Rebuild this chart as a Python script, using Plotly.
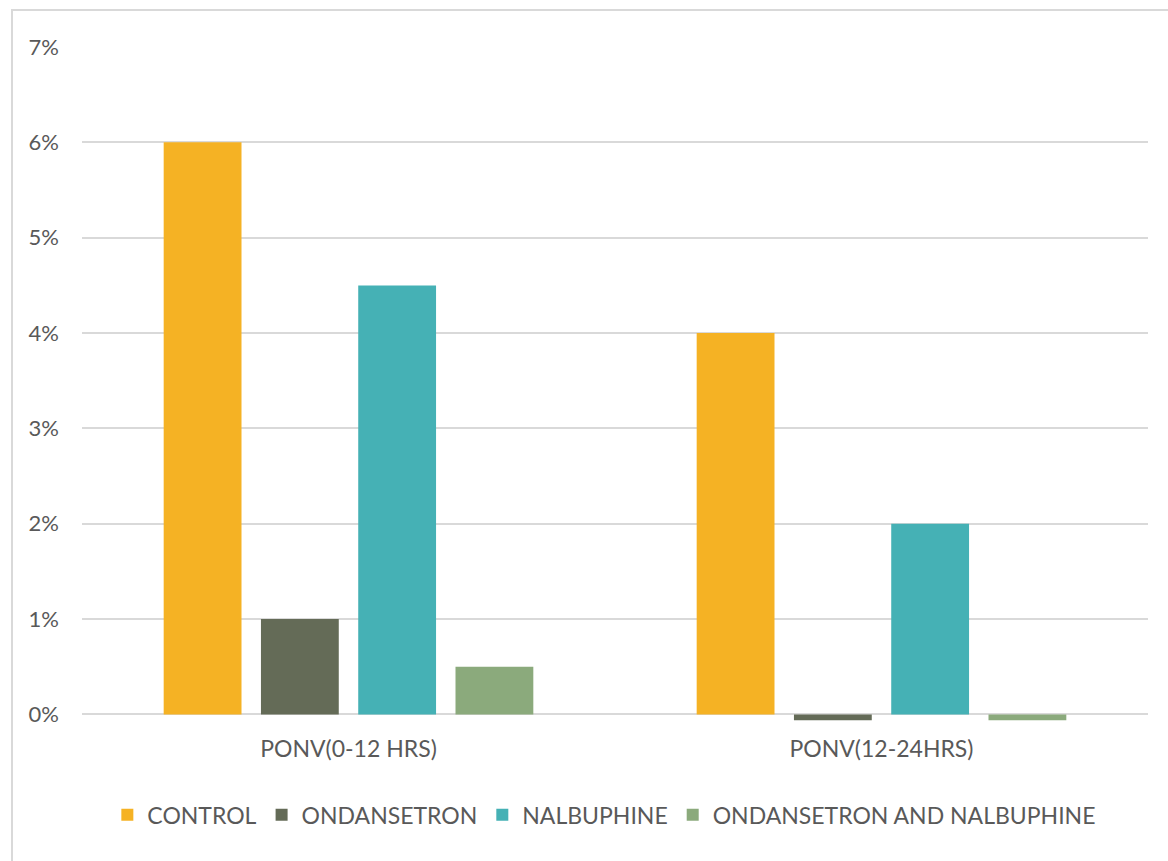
import plotly.graph_objects as go

categories = ["PONV(0-12 HRS)", "PONV(12-24HRS)"]
series_names = ["CONTROL", "ONDANSETRON", "NALBUPHINE", "ONDANSETRON AND NALBUPHINE"]
control = [0.06, 0.04]
ondansetron = [0.01, -0.0006]
nalbuphine = [0.045, 0.02]
combo = [0.005, -0.0006]
colors = ["#F5B224", "#646B57", "#45B1B5", "#8BAA7C"]
y_ticks = [0, 0.01, 0.02, 0.03, 0.04, 0.05, 0.06, 0.07]

FONT = "Lato, 'Open Sans', sans-serif"
TXT = "#595959"
GRID = "#D9D9D9"

fig = go.Figure()
for name, vals, col in zip(series_names, [control, ondansetron, nalbuphine, combo], colors):
    fig.add_trace(go.Bar(x=categories, y=vals, name=name, marker=dict(color=col, line=dict(width=0))))

fig.update_layout(
    width=1168, height=861,
    margin=dict(l=82, r=20, t=47, b=137),
    paper_bgcolor="white", plot_bgcolor="white",
    barmode="group", bargap=0.27, bargroupgap=0.2,
    font=dict(family=FONT, color=TXT, size=22),
    showlegend=True,
    legend=dict(orientation="h", x=0.49, xanchor="center", y=-0.134, yanchor="middle",
                font=dict(size=23, color=TXT), itemwidth=30, traceorder="normal"),
    shapes=[dict(type="rect", xref="paper", yref="paper",
                 x0=(12 - 82) / 1066, x1=(1180 - 82) / 1066,
                 y0=-0.3, y1=(724.5 - 10) / 677.5,
                 line=dict(color=GRID, width=2), fillcolor="rgba(0,0,0,0)", layer="below")],
)
fig.update_yaxes(range=[-0.001, 0.07], tickvals=y_ticks, tickformat=".0%",
                 showgrid=True, gridcolor=GRID, gridwidth=1.5,
                 zeroline=True, zerolinecolor=GRID, zerolinewidth=2,
                 showline=False, ticks="", ticklabelstandoff=22,
                 tickfont=dict(size=22, color=TXT))
fig.update_xaxes(showgrid=False, showline=False, ticks="", ticklabelstandoff=9,
                 tickfont=dict(size=23, color=TXT))

fig.write_html("out.html")
